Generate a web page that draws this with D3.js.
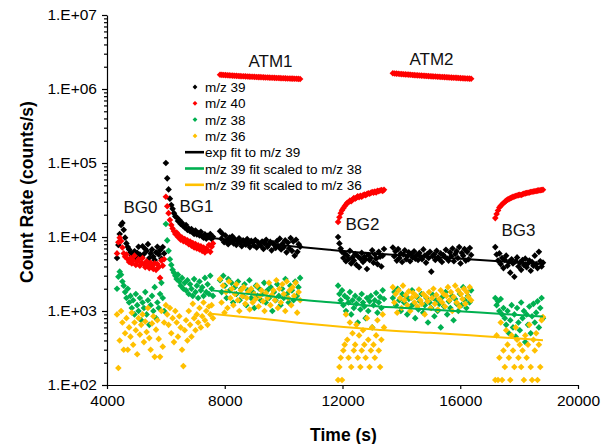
<!DOCTYPE html>
<html lang="en">
<head>
<meta charset="UTF-8">
<title>Count Rate vs Time</title>
<script src="https://d3js.org/d3.v7.min.js"></script>
<style>
  body { margin: 0; background: #fff; }
  svg { font-family: "Liberation Sans", Arial, sans-serif; }
</style>
</head>
<body>
<svg width="605" height="444"></svg>
<script>
// measurement runs: BG0, BG1, ATM1, BG2, ATM2, BG3 (start / end time in s)
const segStart = [4340, 6000, 7840, 11850, 13710, 17190];
const segEnd   = [5940, 7600, 10560, 13410, 16370, 18810];

// count rates per run (samples evenly spaced in each run)
const mz39 = [
  [5200, 7800, 11000, 14500, 15500, 12500, 9800, 8200, 7300, 6800, 6200, 5600, 5900, 6400, 5300, 6100, 7400, 5800, 5500, 7500, 5900, 6900, 6500, 8000, 5200, 6000, 6800, 5400, 4900, 6200, 7400, 5800, 6600, 5100, 7300, 6000],
  [100000, 62000, 44000, 33000, 27000, 24000, 21000, 19000, 18500, 16500, 17000, 15000, 15500, 14000, 13500, 14500, 12500, 13000, 12000, 12800, 11500, 11000, 12200, 10800, 11300, 10500, 11800, 10200, 9800, 10900, 9500, 10400, 9900, 11000, 9400, 10100],
  [12000, 9500, 11000, 8500, 10500, 9000, 8000, 9800, 8700, 10200, 8200, 9300, 7800, 8800, 9600, 8300, 7500, 9000, 8600, 7900, 9400, 8100, 7300, 8900, 8400, 7700, 9100, 7200, 8500, 8000, 7600, 8700, 6900, 8200, 9200, 7400, 7900, 8600, 6600, 8300, 7800, 7100, 8800, 7500, 9500, 6800, 8100, 7300, 9000, 6200, 8400, 7000, 9700, 6500, 8700, 5600, 9200, 6300, 8000, 7400],
  [10000, 8200, 7000, 6300, 5200, 6000, 4700, 5600, 5000, 6500, 4400, 5300, 4800, 5900, 4200, 5500, 3900, 5100, 6100, 4600, 5400, 5000, 3700, 5700, 4900, 5200, 6600, 4500, 5800, 5100, 4300, 6300, 5400, 4000, 5600, 6900],
  [7200, 5500, 6400, 4800, 6900, 5200, 6000, 4600, 5800, 6600, 5000, 5500, 6200, 4700, 5900, 5300, 6400, 5100, 5700, 4900, 6100, 5400, 5000, 6800, 5600, 4500, 5900, 5200, 6300, 3400, 5500, 5800, 4900, 6500, 5300, 5000, 6000, 4600, 5700, 5400, 6700, 5100, 4800, 6200, 5500, 7000, 4700, 5900, 6400, 5200, 7300, 4400, 6100, 5600, 6900, 4800, 6300, 5000, 7100, 5700],
  [7300, 5800, 4800, 6000, 4300, 5200, 3800, 4900, 5600, 4100, 4600, 3300, 5000, 4400, 2900, 4700, 5300, 4000, 4500, 3600, 4900, 4200, 5100, 3900, 4400, 4800, 3500, 4600, 4100, 5600, 4300, 3800, 6300, 4700, 4000, 4500]
];
const mz40 = [
  [6000, 8500, 9800, 8800, 7200, 6000, 5400, 5800, 5000, 4600, 5200, 4400, 4800, 5600, 4200, 4600, 5000, 4100, 4500, 5200, 4300, 3900, 4700, 4200, 3800, 4500, 4000, 3700, 4400, 3600, 4300, 3900, 2800, 4800, 4100, 5000],
  [35000, 26000, 21000, 17000, 14500, 13000, 12000, 11000, 11500, 10000, 10500, 9200, 9800, 8800, 9400, 8500, 9000, 8000, 8700, 7600, 8300, 7200, 8000, 7000, 7700, 6800, 7500, 6500, 7200, 6200, 7000, 6600, 7800, 6300, 7400, 8200],
  [1560000, 1553000, 1546000, 1540000, 1534000, 1528000, 1522000, 1516000, 1510000, 1505000, 1500000, 1495000, 1490000, 1485000, 1480000, 1475000, 1470000, 1466000, 1462000, 1457000, 1453000, 1449000, 1445000, 1441000, 1437000, 1433000, 1429000, 1425000, 1421000, 1418000, 1414000, 1410000, 1407000, 1403000, 1400000, 1396000, 1393000, 1389000, 1386000, 1383000, 1379000, 1376000, 1373000, 1369000, 1366000],
  [16000, 18500, 21000, 23000, 24500, 26000, 27500, 29000, 29500, 31000, 30500, 32000, 33500, 33000, 34000, 35500, 34500, 36000, 35000, 36500, 37500, 36800, 38000, 39000, 38500, 39500, 40500, 39800, 41000, 40000, 42000, 41500, 42500, 43000, 42000, 43500],
  [1630000, 1621000, 1613000, 1605000, 1597000, 1590000, 1583000, 1576000, 1569000, 1562000, 1555000, 1549000, 1542000, 1536000, 1530000, 1524000, 1518000, 1512000, 1506000, 1500000, 1494000, 1489000, 1483000, 1478000, 1472000, 1467000, 1462000, 1456000, 1451000, 1446000, 1441000, 1436000, 1431000, 1426000, 1421000, 1416000, 1412000, 1407000, 1402000, 1398000, 1393000, 1389000, 1385000, 1381000, 1377000],
  [18000, 20500, 22800, 25000, 26500, 27500, 28800, 29800, 31000, 32000, 32500, 33500, 34000, 34800, 35200, 35800, 36300, 36800, 37200, 37000, 37800, 38400, 38900, 39300, 39600, 40000, 40500, 40800, 41200, 41600, 41900, 42300, 42600, 42900, 43200, 43500]
];
const mz38 = [
  [2000, 2900, 3400, 3100, 2500, 2200, 1800, 1500, 2000, 1300, 1600, 1100, 1400, 900, 1700, 1200, 1000, 1500, 750, 1300, 1100, 1800, 900, 1400, 650, 1200, 1600, 1000, 2100, 800, 1300, 1100, 1700, 2400, 1500, 1000],
  [15000, 9000, 6500, 5000, 4200, 3600, 3300, 3000, 2700, 3100, 2500, 2200, 2800, 2000, 2400, 1900, 2600, 1700, 2300, 2000, 1600, 2700, 1800, 2200, 1500, 2500, 1900, 2100, 1600, 2800, 1800, 2300, 1700, 3000, 2000, 1600],
  [2600, 1800, 3000, 2200, 1500, 2700, 1900, 2400, 1300, 2100, 1700, 2500, 1400, 2000, 1600, 2300, 1200, 1900, 2600, 1500, 1800, 1100, 2200, 1600, 2000, 1400, 1700, 2400, 1300, 1900, 1500, 2100, 1000, 1800, 1400, 2300, 1600, 1200, 2000, 1500, 2700, 1700, 1300, 2200, 1900, 1400, 2500, 1600, 2100, 2800],
  [2200, 1700, 1400, 1900, 1200, 1600, 1000, 1500, 1300, 1800, 900, 1400, 1100, 1600, 1250, 700, 1450, 1050, 1700, 1300, 1150, 800, 1500, 1000, 1350, 1600, 600, 1200, 1400, 1750, 950, 1300, 1550, 1100, 1900, 1450],
  [1500, 1800, 1200, 2000, 1400, 1000, 1700, 1300, 1600, 900, 1450, 1150, 1900, 1250, 800, 1550, 1050, 1350, 1700, 950, 1200, 1500, 700, 1300, 1100, 1650, 850, 1400, 1000, 1250, 600, 1550, 1150, 1800, 900, 1350, 1100, 1600, 750, 1450, 1250, 1000, 1700, 1200, 2100, 1400, 1100, 1600, 1300, 1900],
  [1500, 1200, 1350, 1000, 1450, 900, 1100, 800, 650, 1000, 500, 750, 1200, 600, 900, 450, 1100, 700, 550, 1300, 800, 1000, 380, 900, 650, 1150, 500, 850, 1250, 700, 950, 1350, 600, 1100, 1500, 800]
];
const mz36 = [
  [900, 170, 400, 1000, 700, 300, 500, 800, 300, 600, 450, 950, 350, 700, 550, 260, 800, 480, 650, 900, 380, 720, 520, 1100, 430, 300, 680, 850, 240, 560, 750, 420, 240, 1000, 330, 700],
  [1200, 900, 650, 1100, 500, 800, 380, 1000, 700, 450, 850, 600, 300, 180, 550, 750, 400, 1000, 650, 450, 1250, 800, 550, 900, 700, 1100, 600, 850, 1300, 750, 1000, 650, 1150, 900, 1200, 800],
  [2700, 1300, 2200, 950, 1800, 1100, 2500, 1500, 2000, 1200, 1700, 2300, 1400, 1000, 1900, 1600, 2100, 1250, 1500, 1800, 1050, 2000, 1300, 1700, 1450, 2200, 1150, 1600, 1900, 1350, 1000, 1750, 1500, 2400, 1200, 1650, 1900, 1400, 2600, 1100, 2000, 1300, 2300, 1700, 1000, 2500, 1500, 1900, 1200, 2100, 1600, 2400, 950, 1800, 1400],
  [117, 175, 234, 117, 292, 351, 900, 409, 234, 700, 175, 500, 292, 351, 650, 234, 468, 175, 292, 550, 351, 234, 800, 409, 175, 292, 600, 351, 234, 468, 750, 292, 175, 409, 900, 600],
  [2100, 1300, 1700, 950, 1900, 1500, 1100, 2200, 1400, 1650, 1200, 1850, 1000, 1500, 1750, 1300, 1600, 1150, 1950, 1400, 1250, 1700, 900, 1550, 1350, 1800, 1100, 1500, 2000, 1250, 1650, 1050, 1450, 1900, 1300, 1700, 1150, 1600, 2100, 1400, 1800, 1000, 1550, 2200, 1300, 1900, 1150, 1700, 1450, 2000, 1250, 1800, 1550, 2100, 1400],
  [117, 468, 117, 234, 700, 117, 292, 175, 550, 351, 234, 117, 468, 292, 175, 600, 409, 234, 351, 175, 292, 117, 468, 234, 351, 650, 175, 117, 409, 292, 500, 117, 351, 175, 750, 830]
];

// exponential fit to m/z 39 and its scaled copies
const fitTime = [7530, 9200, 10560, 11580, 13270, 14970, 16670, 18810];
const fit39 = [9700, 8400, 7300, 6700, 5900, 5400, 4900, 4300];
const fit38 = [1900, 1640, 1420, 1310, 1150, 1050, 955, 840];
const fit36 = [920, 790, 690, 630, 555, 508, 460, 404];

// run labels (anchored at time, count rate of text baseline)
const runNames = ["BG0", "BG1", "ATM1", "BG2", "ATM2", "BG3"];
const runTime  = [5140, 7040, 9555, 12680, 15025, 17980];
const runRate  = [21000, 22000, 1980000, 12400, 2100000, 10300];

const xTicks = [4000, 8000, 12000, 16000, 20000];
const yTicks = [1e2, 1e3, 1e4, 1e5, 1e6, 1e7];

const svg = d3.select('svg');
const plot = { left: 107, right: 578, top: 15, bottom: 385 };

const x = d3.scaleLinear().domain([4000, 20000]).range([plot.left, plot.right]);
const y = d3.scaleLog().domain([1e2, 1e7]).range([plot.bottom, plot.top]);

// axes
const minor = [];
yTicks.slice(0, -1).forEach(p => { for (let k = 2; k <= 9; k++) minor.push(p * k); });

svg.append('g').attr('transform', `translate(${plot.left},0)`)
  .call(d3.axisLeft(y).tickValues(minor).tickSize(3).tickSizeOuter(0).tickFormat(''))
  .call(g => g.select('.domain').remove());

svg.append('g').attr('transform', `translate(${plot.left},0)`)
  .call(d3.axisLeft(y).tickValues(yTicks).tickSize(5).tickSizeOuter(0).tickPadding(5)
    .tickFormat(d => '1.E+' + String(Math.round(Math.log10(d))).padStart(2, '0')))
  .call(g => g.selectAll('text').attr('font-size', 15.5).attr('fill', '#000'));

svg.append('g').attr('transform', `translate(0,${plot.bottom})`)
  .call(d3.axisBottom(x).tickValues(xTicks).tickSize(4).tickSizeOuter(0).tickPadding(6).tickFormat(d3.format('d')))
  .call(g => g.selectAll('text').attr('font-size', 15.5).attr('fill', '#000'));

svg.selectAll('.domain, .tick line').attr('stroke', '#000').attr('stroke-width', 1.2);

// axis titles
svg.append('text').attr('x', (plot.left + plot.right) / 2 + 1).attr('y', 441)
  .attr('text-anchor', 'middle').attr('font-weight', 'bold').attr('font-size', 17.5).text('Time (s)');
svg.append('text').attr('transform', 'translate(33,192) rotate(-90)')
  .attr('text-anchor', 'middle').attr('font-weight', 'bold').attr('font-size', 17.5).text('Count Rate (counts/s)');

// scatter points
const diamond = r => `M0,${-r}L${r},0L0,${r}L${-r},0Z`;
const series = [
  { data: mz39, color: '#000000' },
  { data: mz40, color: '#ff0000' },
  { data: mz38, color: '#00b050' },
  { data: mz36, color: '#ffc000' }
];

series.forEach(s => {
  const pts = [];
  s.data.forEach((vals, i) => {
    const dt = (segEnd[i] - segStart[i]) / (vals.length - 1);
    vals.forEach((v, j) => pts.push([segStart[i] + j * dt, v]));
  });
  svg.append('g').selectAll('path').data(pts).join('path')
    .attr('d', diamond(3.3))
    .attr('transform', d => `translate(${x(d[0])},${y(d[1])})`)
    .attr('fill', s.color);
});

// fit lines
const line = d3.line().x(d => x(d[0])).y(d => y(d[1])).curve(d3.curveMonotoneX);
[[fit39, '#000000'], [fit38, '#00b050'], [fit36, '#ffc000']].forEach(([vals, c]) => {
  svg.append('path').datum(fitTime.map((t, i) => [t, vals[i]]))
    .attr('d', line).attr('fill', 'none').attr('stroke', c).attr('stroke-width', 2);
});

// run labels
svg.append('g').selectAll('text').data(runNames).join('text')
  .attr('x', (d, i) => x(runTime[i])).attr('y', (d, i) => y(runRate[i]))
  .attr('text-anchor', 'middle').attr('font-size', 17).attr('fill', '#111')
  .text(d => d);

// legend
const legendItems = [
  { label: 'm/z 39', color: '#000000', kind: 'marker' },
  { label: 'm/z 40', color: '#ff0000', kind: 'marker' },
  { label: 'm/z 38', color: '#00b050', kind: 'marker' },
  { label: 'm/z 36', color: '#ffc000', kind: 'marker' },
  { label: 'exp fit to m/z 39', color: '#000000', kind: 'line' },
  { label: 'm/z 39 fit scaled to m/z 38', color: '#00b050', kind: 'line' },
  { label: 'm/z 39 fit scaled to m/z 36', color: '#ffc000', kind: 'line' }
];
const legend = svg.append('g').attr('transform', 'translate(185,87)');
legendItems.forEach((it, i) => {
  const g = legend.append('g').attr('transform', `translate(0,${i * 16.3})`);
  if (it.kind === 'marker') {
    g.append('path').attr('d', diamond(2.4)).attr('transform', 'translate(10,0)').attr('fill', it.color);
  } else {
    g.append('line').attr('x1', 0).attr('x2', 19).attr('stroke', it.color).attr('stroke-width', 2.6);
  }
  g.append('text').attr('x', 20).attr('y', 5).attr('font-size', 13.5).attr('fill', '#000').text(it.label);
});
</script>
</body>
</html>
